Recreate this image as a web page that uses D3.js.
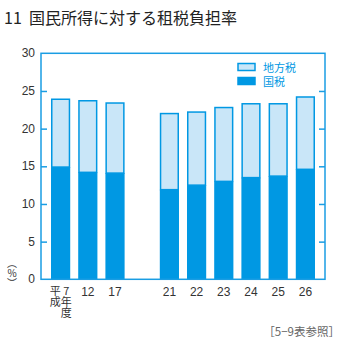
<!DOCTYPE html>
<html><head><meta charset="utf-8">
<script src="https://cdn.jsdelivr.net/npm/d3@7"></script>
<style>
body{margin:0;background:#fff;}
text{font-family:"Noto Sans CJK JP","Noto Sans",sans-serif;}
.num{font-family:"Liberation Sans Narrow","Liberation Sans",Arial,sans-serif;}
.leg{font-family:"Liberation Sans","Noto Sans CJK JP",sans-serif;}
</style></head>
<body><svg id="c" width="341" height="341"></svg>
<script>
const categories = ["平成7年度","12","17","gap","21","22","23","24","25","26"];
const years = ["平成7年度","12","17","21","22","23","24","25","26"];
const kokuzei = [14.9,14.2,14.1,11.9,12.5,13.0,13.5,13.7,14.6];
const chihouzei = [9.0,9.5,9.3,10.1,9.7,9.8,9.8,9.6,9.6];
const yTicks = [0,5,10,15,20,25,30];
const seriesNames = ["地方税","国税"];

const dark = "#0098e3", light = "#c9e6f8", frame = "#1a9de3", txt = "#333";
const svg = d3.select("#c");
const L = 41, R = 325, T = 53.3, B = 279.3;
const x = d3.scaleBand().domain(categories).range([L, R]).paddingInner(0.294).paddingOuter(0.368);
const y = d3.scaleLinear().domain([0,30]).range([B, T]);

svg.append("text").attr("x",4).attr("y",24).attr("font-size",16).attr("fill","#222")
  .attr("font-family","Liberation Sans, Arial, sans-serif").text("11");
svg.append("text").attr("x",29).attr("y",24).attr("font-size",16).attr("fill","#222")
  .text("国民所得に対する租税負担率");

// bars
const data = years.map((k,i)=>({k, a:kokuzei[i], b:chihouzei[i]}));
const g = svg.append("g");
g.selectAll("rect.top").data(data).join("rect")
  .attr("x",d=>x(d.k)+0.75).attr("width",x.bandwidth()-1.5)
  .attr("y",d=>y(d.a+d.b)).attr("height",d=>y(d.a)-y(d.a+d.b))
  .attr("fill",light).attr("stroke",dark).attr("stroke-width",1.5);
g.selectAll("rect.bot").data(data).join("rect")
  .attr("x",d=>x(d.k)).attr("width",x.bandwidth())
  .attr("y",d=>y(d.a)).attr("height",d=>B-y(d.a))
  .attr("fill",dark);

// frame
svg.append("rect").attr("x",L).attr("y",T).attr("width",R-L).attr("height",B-T)
  .attr("fill","none").attr("stroke",frame).attr("stroke-width",1.5);

// ticks
const inner = yTicks.filter(v=>v>0&&v<30);
const yl = svg.append("g").attr("transform",`translate(${L},0)`)
  .call(d3.axisRight(y).tickValues(inner).tickSize(6).tickFormat(""));
yl.select(".domain").remove();
yl.selectAll("line").attr("stroke",frame).attr("stroke-width",1.5);
const yr = svg.append("g").attr("transform",`translate(${R},0)`)
  .call(d3.axisLeft(y).tickValues(inner).tickSize(6).tickFormat(""));
yr.select(".domain").remove();
yr.selectAll("line").attr("stroke",frame).attr("stroke-width",1.5);

svg.append("g").selectAll("text").data(yTicks).join("text").attr("class","num")
  .attr("x",35).attr("y",d=>y(d)+4).attr("text-anchor","end")
  .attr("font-size",12).attr("fill",txt).text(d=>d);

// x labels
const xl = svg.append("g");
years.forEach((k,i)=>{
  const cx = x(k)+x.bandwidth()/2;
  if(i===0){
    xl.append("text").attr("x",cx-5.3).attr("y",285).attr("font-size",11)
      .style("writing-mode","vertical-rl").style("text-orientation","upright")
      .attr("fill",txt).text("平成");
    xl.append("text").attr("x",cx+5.7).attr("y",285).attr("font-size",11)
      .style("writing-mode","vertical-rl").style("text-orientation","upright")
      .attr("fill",txt).text("7年度");
  } else {
    xl.append("text").attr("class","num").attr("x",cx).attr("y",295.5).attr("text-anchor","middle")
      .attr("font-size",12).attr("fill",txt).text(k);
  }
});

// y unit
svg.append("text").attr("x",12).attr("y",258).attr("font-size",10).attr("fill",txt)
  .style("writing-mode","vertical-rl").style("text-orientation","upright").text("（%）");

// legend
const lg = svg.append("g");
const lc = [light, dark];
seriesNames.forEach((n,i)=>{
  lg.append("rect").attr("x",238).attr("y",63.5+i*14).attr("width",17).attr("height",7)
    .attr("fill",lc[i]).attr("stroke",dark).attr("stroke-width",1.5);
  lg.append("text").attr("class","leg").attr("x",263).attr("y",71.5+i*14).attr("font-size",11).attr("fill",dark).text(n);
});

svg.append("text").attr("x",340).attr("y",336).attr("text-anchor","end").attr("font-size",11.5)
  .attr("fill","#666").attr("font-family","Noto Serif CJK JP, DejaVu Serif, serif").text("［5−9表参照］");
</script></body></html>
